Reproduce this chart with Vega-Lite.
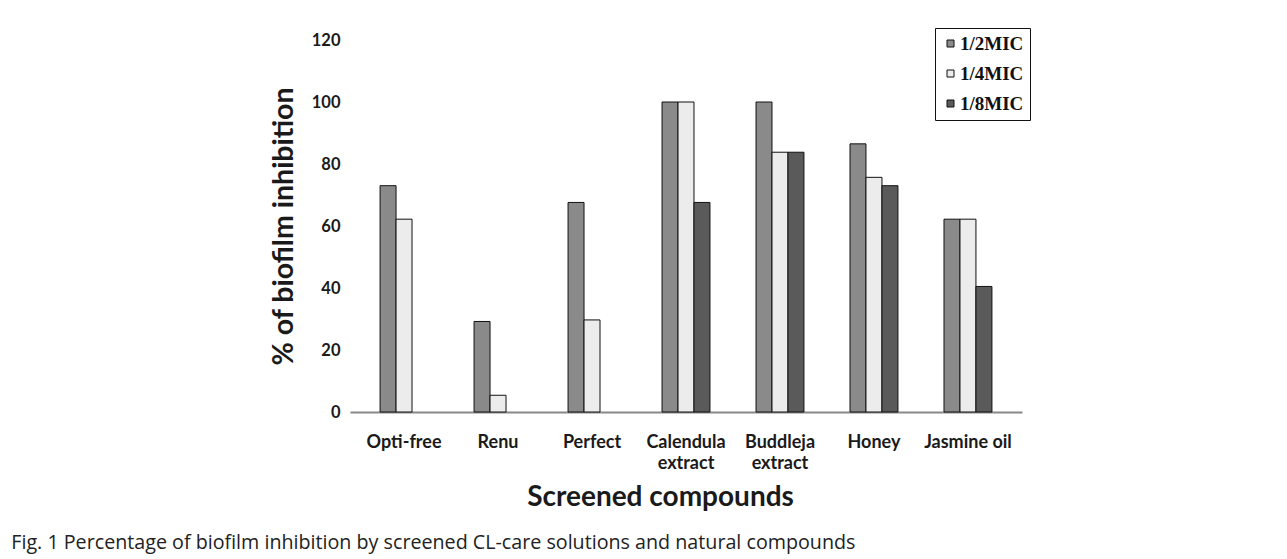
{
  "$schema": "https://vega.github.io/schema/vega-lite/v6.json",
  "autosize": "none",
  "width": 672,
  "height": 372,
  "padding": {"left": 350, "top": 40, "right": 265, "bottom": 147},
  "background": "white",
  "config": {"view": {"stroke": null}},
  "title": {
    "text": "Fig. 1 Percentage of biofilm inhibition by screened CL-care solutions and natural compounds",
    "orient": "bottom",
    "anchor": "start",
    "dx": -258,
    "offset": 21,
    "font": "Open Sans",
    "fontSize": 19.7,
    "fontWeight": "normal",
    "color": "#222"
  },
  "data": {
    "values": [
      {"compound": "Opti-free", "conc": "1/2MIC", "value": 73.0},
      {"compound": "Opti-free", "conc": "1/4MIC", "value": 62.2},
      {"compound": "Renu", "conc": "1/2MIC", "value": 29.2},
      {"compound": "Renu", "conc": "1/4MIC", "value": 5.4},
      {"compound": "Perfect", "conc": "1/2MIC", "value": 67.6},
      {"compound": "Perfect", "conc": "1/4MIC", "value": 29.7},
      {"compound": "Calendula extract", "conc": "1/2MIC", "value": 100},
      {"compound": "Calendula extract", "conc": "1/4MIC", "value": 100},
      {"compound": "Calendula extract", "conc": "1/8MIC", "value": 67.6},
      {"compound": "Buddleja extract", "conc": "1/2MIC", "value": 100},
      {"compound": "Buddleja extract", "conc": "1/4MIC", "value": 83.8},
      {"compound": "Buddleja extract", "conc": "1/8MIC", "value": 83.8},
      {"compound": "Honey", "conc": "1/2MIC", "value": 86.5},
      {"compound": "Honey", "conc": "1/4MIC", "value": 75.7},
      {"compound": "Honey", "conc": "1/8MIC", "value": 73.0},
      {"compound": "Jasmine oil", "conc": "1/2MIC", "value": 62.2},
      {"compound": "Jasmine oil", "conc": "1/4MIC", "value": 62.2},
      {"compound": "Jasmine oil", "conc": "1/8MIC", "value": 40.5}
    ]
  },
  "mark": {"type": "bar", "stroke": "#111", "strokeWidth": 1},
  "encoding": {
    "x": {
      "field": "compound",
      "type": "nominal",
      "sort": null,
      "scale": {"paddingInner": 0.49, "paddingOuter": 0.32},
      "axis": {
        "title": "Screened compounds",
        "titleFont": "Lato",
        "titleFontSize": 28,
        "titleFontWeight": "bold",
        "titleColor": "#1a1a1a",
        "titlePadding": 11,
        "titleX": 310,
        "labelAngle": 0,
        "labelFont": "Lato",
        "labelFontSize": 18,
        "labelFontWeight": "bold",
        "labelColor": "#1a1a1a",
        "labelPadding": 21,
        "labelLineHeight": 21.5,
        "labelExpr": "test(/extract$/, datum.label) ? split(datum.label, ' ') : datum.label",
        "ticks": false,
        "domainColor": "#888",
        "domainWidth": 2
      }
    },
    "xOffset": {
      "field": "conc",
      "type": "nominal",
      "scale": {"domain": ["1/2MIC", "1/4MIC", "1/8MIC"], "paddingInner": 0, "paddingOuter": 0}
    },
    "y": {
      "field": "value",
      "type": "quantitative",
      "scale": {"domain": [0, 120]},
      "axis": {
        "title": "% of biofilm inhibition",
        "titleFont": "Lato",
        "titleFontSize": 28.5,
        "titleFontWeight": "bold",
        "titleColor": "#1a1a1a",
        "titlePadding": 13,
        "values": [0, 20, 40, 60, 80, 100, 120],
        "labelFont": "Lato",
        "labelFontSize": 16.5,
        "labelFontWeight": "bold",
        "labelColor": "#1a1a1a",
        "labelPadding": 10,
        "ticks": false,
        "domain": false,
        "grid": false
      }
    },
    "fill": {
      "field": "conc",
      "type": "nominal",
      "scale": {"domain": ["1/2MIC", "1/4MIC", "1/8MIC"], "range": ["#8a8a8a", "#ececec", "#5a5a5a"]},
      "legend": {
        "title": null,
        "orient": "none",
        "legendX": 585,
        "legendY": -12,
        "strokeColor": "#111",
        "padding": 6,
        "rowPadding": 10,
        "symbolType": "square",
        "symbolSize": 49,
        "symbolStrokeColor": "#111",
        "symbolStrokeWidth": 1,
        "labelFont": "Liberation Serif",
        "labelFontSize": 19,
        "labelFontWeight": "bold",
        "labelColor": "#111",
        "labelOffset": 0
      }
    }
  }
}
